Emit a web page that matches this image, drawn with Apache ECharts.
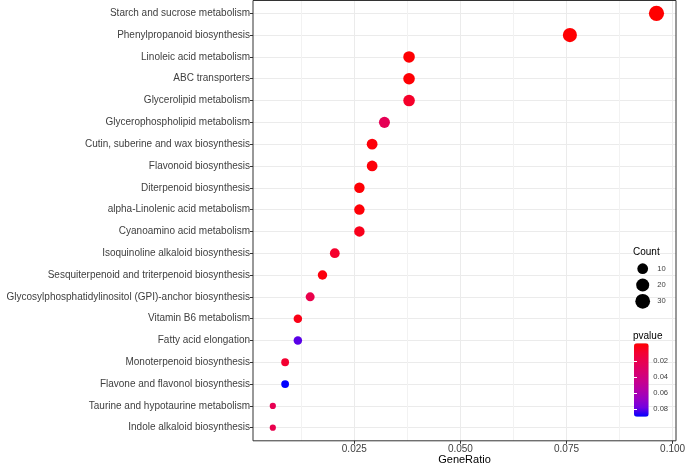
<!DOCTYPE html>
<html>
<head>
<meta charset="utf-8">
<script src="https://cdn.jsdelivr.net/npm/echarts@6/dist/echarts.min.js"></script>
<style>
html,body{margin:0;padding:0;background:#fff;}
#chart{width:685px;height:466px;}
</style>
</head>
<body>
<div id="chart"></div>
<script>
// ---- data (top to bottom as shown) ----
const categories = [
  'Starch and sucrose metabolism',
  'Phenylpropanoid biosynthesis',
  'Linoleic acid metabolism',
  'ABC transporters',
  'Glycerolipid metabolism',
  'Glycerophospholipid metabolism',
  'Cutin, suberine and wax biosynthesis',
  'Flavonoid biosynthesis',
  'Diterpenoid biosynthesis',
  'alpha-Linolenic acid metabolism',
  'Cyanoamino acid metabolism',
  'Isoquinoline alkaloid biosynthesis',
  'Sesquiterpenoid and triterpenoid biosynthesis',
  'Glycosylphosphatidylinositol (GPI)-anchor biosynthesis',
  'Vitamin B6 metabolism',
  'Fatty acid elongation',
  'Monoterpenoid biosynthesis',
  'Flavone and flavonol biosynthesis',
  'Taurine and hypotaurine metabolism',
  'Indole alkaloid biosynthesis'
];
const geneRatio = [0.0962, 0.0758, 0.0379, 0.0379, 0.0379, 0.0321, 0.0292, 0.0292, 0.0262, 0.0262,
                   0.0262, 0.0204, 0.0175, 0.0146, 0.0117, 0.0117, 0.0087, 0.0087, 0.0058, 0.0058];
const counts    = [33, 26, 13, 13, 13, 11, 10, 10, 9, 9, 9, 7, 6, 5, 4, 4, 3, 3, 2, 2];
const pvalues   = [0.00003, 0.0004, 0.0008, 0.0010, 0.0095, 0.0240, 0.0020, 0.0020, 0.0012, 0.0015,
                   0.0060, 0.0100, 0.0030, 0.0200, 0.0050, 0.0790, 0.0110, 0.0875, 0.0230, 0.0210];
const xTickValues = [0.025, 0.05, 0.075, 0.1];
const pTickValues = [0.02, 0.04, 0.06, 0.08];
const sizeBreaks  = [10, 20, 30];

// ---- scales ----
const cMin = Math.min(...counts), cMax = Math.max(...counts);
const pMin = Math.min(...pvalues), pMax = Math.max(...pvalues);
function sizeOf(c) { return 6.2 + 9 * Math.sqrt(Math.max(0, (c - cMin) / (cMax - cMin))); }
// red -> blue interpolated in Lab (as ggplot does)
const gradient = ['#FF0000', '#F40031', '#E80050', '#DA006C', '#CA0089', '#B500A5', '#9A00C2', '#7300E0', '#0000FF'];

const FONT = '"Liberation Sans", Arial, Helvetica, sans-serif';
const TXT = '#404040';
const xMax = 0.1008;

const pointData = categories.map((c, i) => [geneRatio[i], c, counts[i], pvalues[i]]);
const legendData = sizeBreaks.map(v => [1, String(v), v]);

const chart = echarts.init(document.getElementById('chart'), null, {renderer: 'canvas'});
chart.setOption({
  backgroundColor: '#ffffff',
  animation: false,
  textStyle: {fontFamily: FONT},
  grid: [
    {left: 248.2, right: 9, top: 2.4, height: 436.2, outerBoundsMode: 'none', containLabel: false},
    {left: 248.2, right: 9, top: 0.2, bottom: 25.2, outerBoundsMode: 'none', containLabel: false},
    {left: 632.7, width: 20, top: 260.55, height: 48.9, outerBoundsMode: 'none', containLabel: false},
    {left: 634, width: 14.7, top: 345.1, height: 69.8, outerBoundsMode: 'none', containLabel: false}
  ],
  xAxis: [
    {gridIndex: 0, type: 'value', min: 0, max: xMax, show: false},
    {gridIndex: 1, type: 'value', position: 'bottom', min: 0, max: xMax, interval: 0.0125,
     axisLine: {show: false}, axisTick: {show: false}, axisLabel: {show: false},
     splitLine: {show: true, showMinLine: false, showMaxLine: false,
                 lineStyle: {color: ['#F2F2F2', '#EBEBEB'], width: 1}}},
    {gridIndex: 1, type: 'value', position: 'bottom', min: 0, max: xMax, interval: 0.025,
     axisLine: {show: false}, splitLine: {show: false},
     axisTick: {show: true, customValues: xTickValues, length: 3, lineStyle: {color: '#333333', width: 1}},
     axisLabel: {customValues: xTickValues, formatter: v => v.toFixed(3), fontSize: 10, color: TXT, margin: 3, fontFamily: FONT},
     name: 'GeneRatio', nameLocation: 'middle', nameGap: 14, nameMoveOverlap: false,
     nameTextStyle: {fontSize: 11, color: '#000', fontFamily: FONT, padding: [0, 0, 0, 4.8]}},
    {gridIndex: 2, type: 'value', min: 0, max: 2, show: false},
    {gridIndex: 3, type: 'value', show: false}
  ],
  yAxis: [
    {gridIndex: 0, type: 'category', data: categories, inverse: true, offset: -4.8,
     axisLine: {show: false, onZero: false},
     axisTick: {show: true, alignWithLabel: true, length: 3, lineStyle: {color: '#333333', width: 1}},
     axisLabel: {fontSize: 10, color: TXT, margin: 3, fontFamily: FONT},
     splitLine: {show: true, alignWithLabel: true, lineStyle: {color: '#EBEBEB', width: 1}}},
    {gridIndex: 1, type: 'value', show: false},
    {gridIndex: 2, type: 'category', data: sizeBreaks.map(String), inverse: true, position: 'right',
     axisLine: {show: false}, axisTick: {show: false}, splitLine: {show: false},
     axisLabel: {fontSize: 7.6, color: TXT, margin: 4.6, fontFamily: FONT}},
    {gridIndex: 3, type: 'value', min: pMin, max: pMax, inverse: true, position: 'right', z: 10,
     axisLine: {show: false}, splitLine: {show: false},
     axisTick: {show: true, inside: true, length: 3, customValues: pTickValues, lineStyle: {color: '#ffffff', width: 1}},
     axisLabel: {customValues: pTickValues, formatter: v => v.toFixed(2), fontSize: 7.6, color: TXT, margin: 4.6, fontFamily: FONT}},
    {gridIndex: 3, type: 'value', min: pMin, max: pMax, inverse: true, position: 'left', z: 10,
     axisLine: {show: false}, splitLine: {show: false}, axisLabel: {show: false},
     axisTick: {show: true, inside: true, length: 3, customValues: pTickValues, lineStyle: {color: '#ffffff', width: 1}}}
  ],
  visualMap: [{
    type: 'continuous', seriesIndex: 0, dimension: 3, min: pMin, max: pMax,
    inverse: true, calculable: false, orient: 'vertical',
    itemWidth: 14.7, itemHeight: 73.4, left: 634, top: 343.3, padding: 0,
    text: null, showLabel: false, hoverLink: false,
    inRange: {color: gradient}
  }],
  series: [
    {type: 'scatter', xAxisIndex: 0, yAxisIndex: 0, data: pointData,
     symbol: 'circle', symbolSize: d => sizeOf(d[2]), itemStyle: {opacity: 1}, z: 5},
    {type: 'scatter', xAxisIndex: 3, yAxisIndex: 2, data: legendData,
     symbol: 'circle', symbolSize: d => sizeOf(d[2]), itemStyle: {color: '#000000', opacity: 1}}
  ],
  graphic: [
    {type: 'rect', z: 100, silent: true,
     shape: {x: 253, y: 0.5, width: 423, height: 440.3},
     style: {fill: null, stroke: '#333333', lineWidth: 1}},
    {type: 'text', z: 100, left: 633, top: 247, silent: true,
     style: {text: 'Count', font: '10px ' + FONT, fill: '#000'}},
    {type: 'text', z: 100, left: 633, top: 331, silent: true,
     style: {text: 'pvalue', font: '10px ' + FONT, fill: '#000'}}
  ]
});
</script>
</body>
</html>
